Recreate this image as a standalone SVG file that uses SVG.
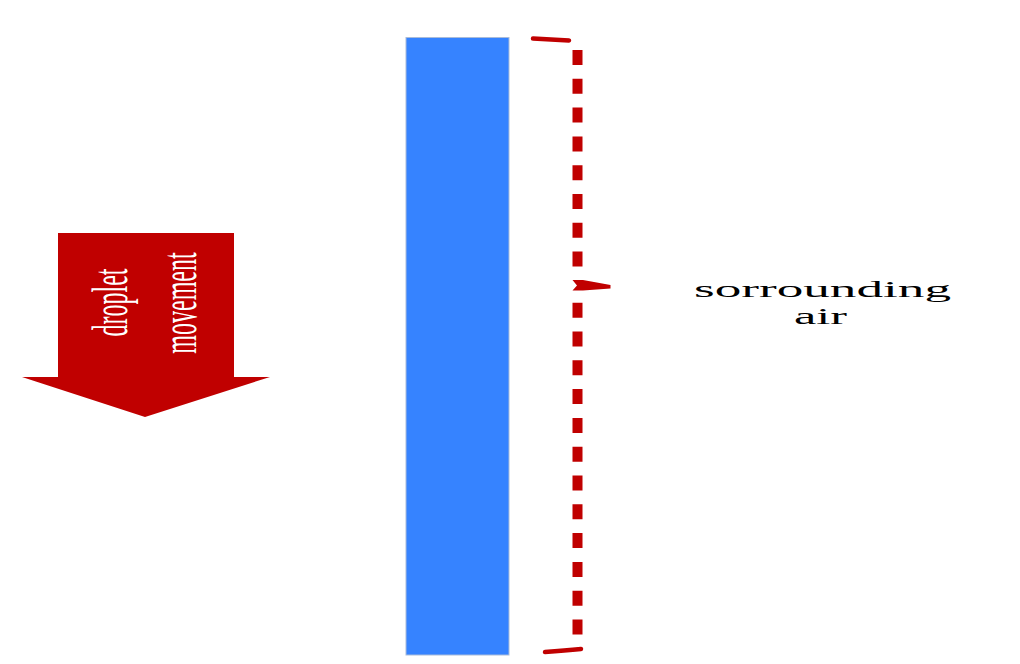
<svg xmlns="http://www.w3.org/2000/svg" width="1020" height="664" viewBox="0 0 1020 664">
<style>
.red{fill:#c00000}
.lbl{font-family:"Liberation Serif","Times New Roman",serif;font-size:24px}
.dash{stroke:#c00000;stroke-width:10;fill:none;stroke-dasharray:15 13.8}
.hook{stroke:#c00000;stroke-width:4.5;fill:none;stroke-linecap:round}
</style>
<rect width="1020" height="664" fill="#ffffff"/>
<g id="arrow">
<polygon class="red" points="58,233 234,233 234,377 270,377 145,417 22,377 58,377"/>
<text class="lbl" fill="#ffffff" text-anchor="middle" transform="translate(127,302.5) scale(2.1,1) rotate(-90)">droplet</text>
<text class="lbl" fill="#ffffff" text-anchor="middle" transform="translate(196,303) scale(2.1,1) rotate(-90)">movement</text>
</g>
<g id="bar">
<rect x="406" y="37.5" width="103" height="617.5" fill="#3683ff" stroke="#a9bbd9" stroke-width="1"/>
</g>
<g id="connectors">
<g id="brace">
<path class="hook" d="M533,38.5 L569,40.5"/>
<line class="dash" x1="577.5" y1="50" x2="577.5" y2="267"/>
<path class="red" d="M572.5,280 L583,280 L610.5,285 L610.5,288.5 L583,290.5 L572.5,290.5 L577,285.5 Z"/>
<line class="dash" x1="577.5" y1="302.7" x2="577.5" y2="635"/>
<path class="hook" d="M545,652 Q565,650.5 581,649"/>
</g>
</g>
<g id="label">
<text class="lbl" fill="#000000" x="694" y="297" textLength="257" lengthAdjust="spacingAndGlyphs">sorrounding</text>
<text class="lbl" fill="#000000" x="794" y="324" textLength="53" lengthAdjust="spacingAndGlyphs">air</text>
</g>
</svg>
